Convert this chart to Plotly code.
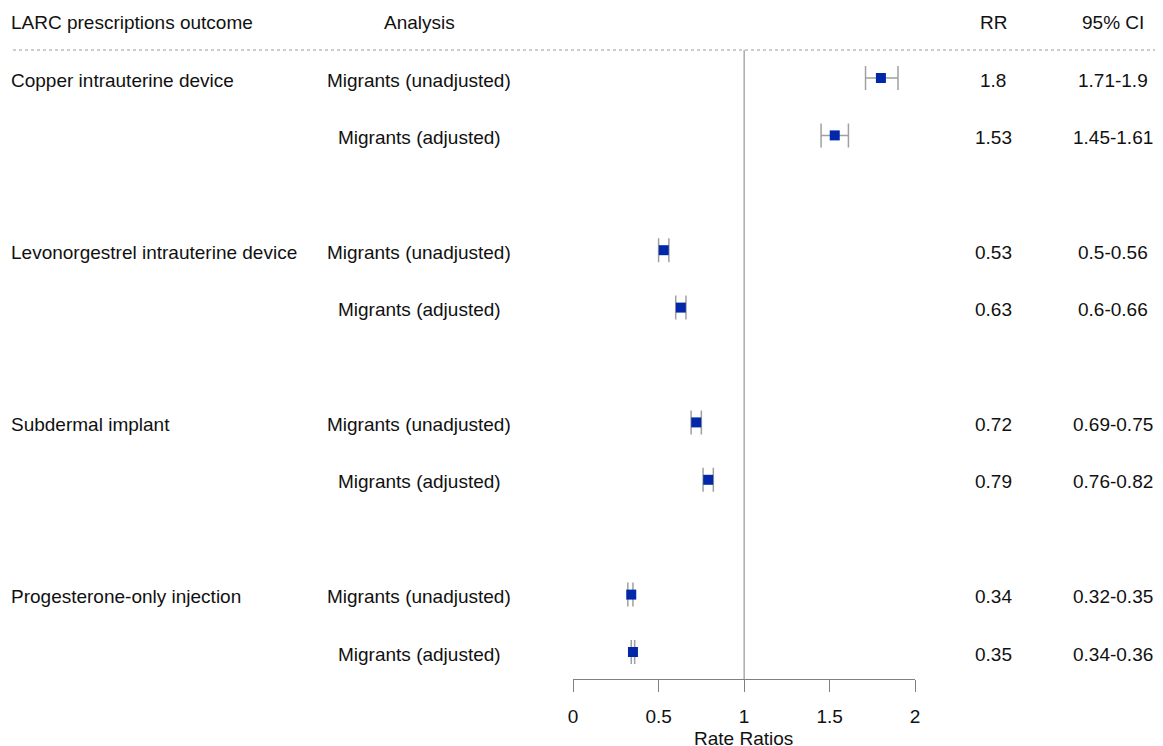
import plotly.graph_objects as go

outcomes = ["Copper intrauterine device", "Levonorgestrel intrauterine device",
            "Subdermal implant", "Progesterone-only injection"]
analyses = ["Migrants (unadjusted)", "Migrants (adjusted)"]
rr = [1.8, 1.53, 0.53, 0.63, 0.72, 0.79, 0.34, 0.35]
ci_lo = [1.71, 1.45, 0.5, 0.6, 0.69, 0.76, 0.32, 0.34]
ci_hi = [1.9, 1.61, 0.56, 0.66, 0.75, 0.82, 0.35, 0.36]
x_ticks = [0, 0.5, 1, 1.5, 2]
headers = ["LARC prescriptions outcome", "Analysis", "RR", "95% CI"]

OFF = 8  # browser body margin
W, H = 1163 - OFF, 746 - OFF
FONT = "Liberation Sans, Arial, sans-serif"
TXT = "#111111"
FS = 19

def px(xr):
    return (xr - OFF) / W

def py(yr):
    return 1 - (yr - OFF) / H

# row positions: two rows per outcome, one blank row between groups
ypos = []
for g in range(len(outcomes)):
    for j in range(len(analyses)):
        ypos.append(g * 3 + j)

unit = 57.4
top_px = 78.0 - OFF
y_top = -top_px / unit
y_bot = (H - top_px) / unit

fig = go.Figure()
fig.add_trace(go.Scatter(
    x=rr, y=ypos, mode="markers",
    marker=dict(symbol="square", size=10, color="#0028A8"),
    error_x=dict(type="data", symmetric=False,
                 array=[h - r for h, r in zip(ci_hi, rr)],
                 arrayminus=[r - l for r, l in zip(rr, ci_lo)],
                 color="#A0A0A0", thickness=1.5, width=12),
    showlegend=False, hoverinfo="skip"))

ann = []
def add_text(x, y, text, xanchor="center", yref="y", dy=0):
    ann.append(dict(x=x, y=y, xref="paper", yref=yref, text=text, showarrow=False,
                    xanchor=xanchor, yanchor="middle", yshift=dy,
                    font=dict(family=FONT, size=FS, color=TXT)))

LEFT = px(4)
# headers
hy = py(23)
add_text(LEFT, hy, headers[0], xanchor="left", yref="paper")
add_text(px(418), hy, headers[1], yref="paper")
add_text(px(997), hy, headers[2], yref="paper")
add_text(px(1118), hy, headers[3], yref="paper")

for g, name in enumerate(outcomes):
    add_text(LEFT, g * 3, name, xanchor="left", dy=-2)
for i, y in enumerate(ypos):
    add_text(px(418), y, analyses[i % 2], dy=-2)
    add_text(px(997), y, str(rr[i]), dy=-2)
    add_text(px(1118), y, f"{ci_lo[i]}-{ci_hi[i]}", dy=-2)

add_text(px(745), py(738), "Rate Ratios", yref="paper")

fig.update_layout(
    width=W, height=H, margin=dict(l=0, r=0, t=0, b=0),
    paper_bgcolor="white", plot_bgcolor="white",
    annotations=ann,
    shapes=[
        dict(type="line", xref="paper", yref="paper", x0=0, x1=1,
             y0=py(50), y1=py(50),
             line=dict(color="#999999", width=1, dash="dot")),
        dict(type="line", xref="x", yref="paper", x0=1, x1=1,
             y0=py(679), y1=py(50),
             line=dict(color="#808080", width=1)),
    ],
    xaxis=dict(domain=[px(573), px(918)], range=[0, 2], tickvals=x_ticks,
               ticktext=[str(t) for t in x_ticks],
               showgrid=False, zeroline=False, showline=True,
               linecolor="#808080", linewidth=1,
               ticks="outside", ticklen=12, tickcolor="#808080", tickwidth=1,
               anchor="free", position=py(679),
               tickfont=dict(family=FONT, size=FS, color=TXT),
               ticklabelstandoff=8),
    yaxis=dict(domain=[0, 1], range=[y_bot, y_top], visible=False,
               showgrid=False, zeroline=False),
)

fig.write_html("out.html")
